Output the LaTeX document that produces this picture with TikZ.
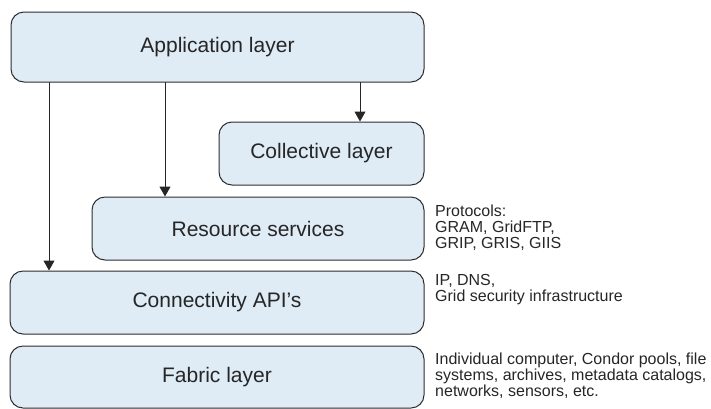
\documentclass[tikz,border=0pt]{standalone}
\usepackage{fontspec}
\setmainfont{Liberation Sans}
\usepackage{xcolor}
\usepackage{tikz}
\usetikzlibrary{arrows.meta,calc,positioning}
\definecolor{layerfill}{RGB}{223,235,245}
\definecolor{layerline}{RGB}{45,45,45}
\tikzset{
  layer/.style={rectangle, rounded corners=13pt, draw=layerline, fill=layerfill,
    line width=1pt, inner sep=0pt, font=\fontsize{21}{24}\selectfont, text=black!85},
  note/.style={anchor=west, align=left, inner sep=0pt, text=black!85,
    font=\fontsize{16}{16}\selectfont},
  down/.style={-{Triangle[length=10pt,width=11pt]}, line width=1pt, draw=black!85},
  every picture/.style={line cap=round, line join=round}
}

\begin{document}
\begin{tikzpicture}[x=1pt,y=-1pt]
  \useasboundingbox (0,0) rectangle (711,408);

  \node[layer, minimum width=413pt, minimum height=70pt] (app) at (217.5,47) {Application layer};
  \node[layer, minimum width=205pt, minimum height=63pt] (coll) at (321.5,153.5) {Collective layer};
  \node[layer, minimum width=332pt, minimum height=63pt] (res) at (258,228.5) {Resource services};
  \node[layer, minimum width=414pt, minimum height=63pt] (conn) at (217,302.5) {Connectivity API's};
  \node[layer, minimum width=414pt, minimum height=62pt] (fab) at (217,377) {Fabric layer};

  \node[note] (protos) at (435,228) {Protocols:\\GRAM, GridFTP,\\GRIP, GRIS, GIIS};
  \node[note] (ipdns) at (435,290) {IP, DNS,\\Grid security infrastructure};
  \node[note] (fabric) at (435,376) {Individual computer, Condor pools, file\\systems, archives, metadata catalogs,\\networks, sensors, etc.};

  \coordinate (c1) at (49,0);
  \coordinate (c2) at (165,0);
  \coordinate (c3) at (360,0);

  \draw[down] (app.south -| c1) -- (conn.north -| c1);
  \draw[down] (app.south -| c2) -- (res.north -| c2);
  \draw[down] (app.south -| c3) -- (coll.north -| c3);
\end{tikzpicture}
\end{document}
